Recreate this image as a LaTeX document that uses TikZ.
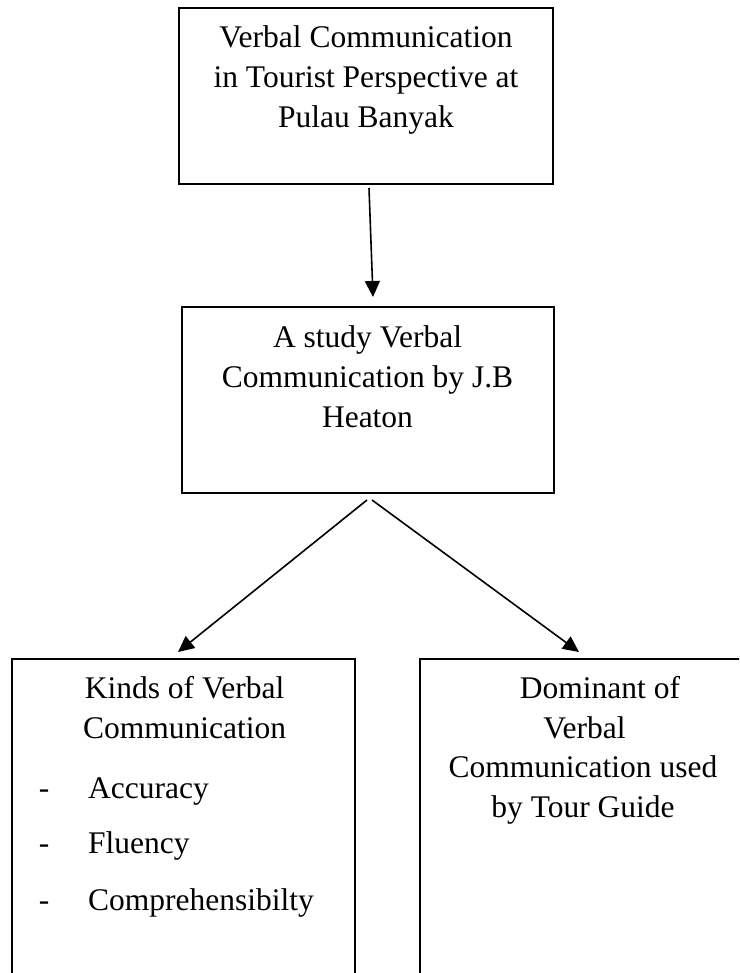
\documentclass[tikz,border=0pt]{standalone}
\usepackage{fontspec}
\setmainfont{Liberation Serif}
\usetikzlibrary{arrows.meta}
\begin{document}
\begin{tikzpicture}[x=1pt,y=-1pt]
\tikzset{
 boxshape/.style={draw, line width=1.7pt, inner sep=0pt, rectangle},
 txt/.style={anchor=base, inner sep=0pt, font=\fontsize{31.5}{40}\selectfont},
 conn/.style={line width=1.6pt, -{Triangle[length=16pt,width=15pt]}},
}
\useasboundingbox[fill=white] (0,0) rectangle (739,973);
\clip (0,0) rectangle (739,973);
% boxes
\node[boxshape, minimum width=374pt, minimum height=176pt] (topbox) at (366,96) {};
\node[boxshape, minimum width=372pt, minimum height=186pt] (midbox) at (368,400) {};
\node[boxshape, minimum width=343pt, minimum height=331pt] (leftbox) at (183.5,824.5) {};
\node[boxshape, minimum width=340pt, minimum height=331pt] (rightbox) at (590,824.5) {};
% top text
\node[txt] (t1) at (366,48) {Verbal Communication};
\node[txt] (t2) at (366,88) {in Tourist Perspective at};
\node[txt] (t3) at (366,128) {Pulau Banyak};
% middle text
\node[txt] (m1) at (367.5,347) {A study Verbal};
\node[txt] (m2) at (367.5,387) {Communication by J.B};
\node[txt] (m3) at (367.5,427) {Heaton};
% left text
\node[txt] (l1) at (184.5,698) {Kinds of Verbal};
\node[txt] (l2) at (184.5,738) {Communication};
\node[txt] (d1) at (44,798) {-};
\node[txt] (d2) at (44,853) {-};
\node[txt] (d3) at (44,910) {-};
\node[txt, anchor=base west] (i1) at (88,798) {Accuracy};
\node[txt, anchor=base west] (i2) at (88,853) {Fluency};
\node[txt, anchor=base west] (i3) at (88,910) {Comprehensibilty};
% right text
\node[txt] (r1) at (600,698) {Dominant of};
\node[txt] (r2) at (584.5,738) {Verbal};
\node[txt] (r3) at (583,777) {Communication used};
\node[txt] (r4) at (583,817) {by Tour Guide};
% connectors
\coordinate (a1s) at (369,188);
\coordinate (a1e) at (373,297);
\coordinate (a2s) at (367,500);
\coordinate (a2e) at (178,652);
\coordinate (a3s) at (372,500);
\coordinate (a3e) at (579,652);
\draw[conn] (a1s) -- (a1e);
\draw[conn] (a2s) -- (a2e);
\draw[conn] (a3s) -- (a3e);
\end{tikzpicture}
\end{document}
